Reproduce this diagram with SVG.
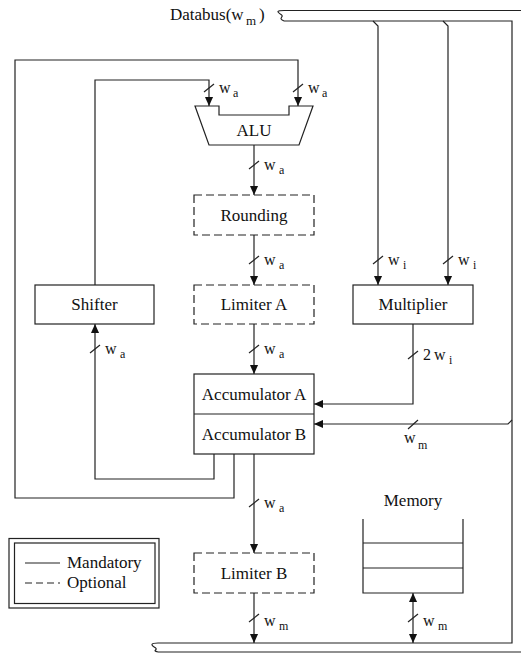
<svg xmlns="http://www.w3.org/2000/svg" width="521" height="655" viewBox="0 0 521 655">
<style>
text{font-family:"Liberation Serif","Times New Roman",serif;fill:#111}
.t{font-size:17px;text-anchor:middle}
.w{font-size:16px}
.s{font-size:12px}
.ln{fill:none;stroke:#222;stroke-width:1.2}
.box{fill:#fff;stroke:#222;stroke-width:1.2}
.opt{fill:#fff;stroke:#222;stroke-width:1.2;stroke-dasharray:8 4}
.ar{fill:none;stroke:#222;stroke-width:1.2;marker-end:url(#ah)}
</style>
<defs>
<marker id="ah" viewBox="0 0 10 10" refX="10" refY="5" markerWidth="9" markerHeight="9" markerUnits="userSpaceOnUse" orient="auto-start-reverse">
<path d="M0,0.5 L10,5 L0,9.5 z" fill="#111"/>
</marker>
</defs>
<rect width="521" height="655" fill="#fff"/>

<g id="connectors">
<path class="ln" d="M284,10.5 H521"/>
<path class="ln" d="M284,21 H512 V643 H158"/>
<path class="ln" d="M158,652 H521"/>
<path class="ln" d="M284,10.5 C276,10.5 277,12 281,14.5 C285,17 277,18 284,21"/>
<path class="ln" d="M158,643 C150,643 151,645 155,647.5 C159,650 151,650.5 158,652"/>
<path class="ar" d="M373,21 L378,26 V285"/>
<path class="ar" d="M443,21 L448,26 V285"/>
<path class="ar" d="M512,420 L508,424 H314"/>
<path class="ar" d="M234,454 V498 H15 V60 H298 V106"/>
<path class="ar" d="M214,454 V479 H95 V324"/>
<path class="ar" d="M95,285 V80 H209 V106"/>
<path class="ar" d="M254,145 V195"/>
<path class="ar" d="M254,235 V285"/>
<path class="ar" d="M254,324 V374"/>
<path class="ar" d="M254,454 V553"/>
<path class="ar" d="M254,593 V643"/>
<path class="ar" d="M413,324 V404 H314"/>
<path class="ar" d="M413,618 V593"/>
<path class="ar" d="M413,618 V643"/>
<g class="ln">
<path d="M204,92 L214,84"/>
<path d="M293,92 L303,84"/>
<path d="M249,169 L259,161"/>
<path d="M249,264 L259,256"/>
<path d="M373,264 L383,256"/>
<path d="M443,264 L453,256"/>
<path d="M249,353 L259,345"/>
<path d="M90,353 L100,345"/>
<path d="M408,359 L418,351"/>
<path d="M408,429 L418,420"/>
<path d="M249,507 L259,499"/>
<path d="M249,622 L259,614"/>
<path d="M408,622 L418,614"/>
</g>
<text class="w" x="219" y="93">w</text><text class="s" x="233" y="97">a</text>
<text class="w" x="308" y="93">w</text><text class="s" x="322" y="97">a</text>
<text class="w" x="264" y="170">w</text><text class="s" x="279" y="174">a</text>
<text class="w" x="264" y="265">w</text><text class="s" x="279" y="269">a</text>
<text class="w" x="388" y="265">w</text><text class="s" x="403" y="269">i</text>
<text class="w" x="458" y="265">w</text><text class="s" x="473" y="269">i</text>
<text class="w" x="264" y="354">w</text><text class="s" x="279" y="358">a</text>
<text class="w" x="105" y="354">w</text><text class="s" x="120" y="358">a</text>
<text class="w" x="423" y="360">2</text><text class="w" x="434" y="360">w</text><text class="s" x="449" y="364">i</text>
<text class="w" x="404" y="443">w</text><text class="s" x="418" y="449">m</text>
<text class="w" x="264" y="508">w</text><text class="s" x="279" y="512">a</text>
<text class="w" x="264" y="626">w</text><text class="s" x="279" y="630">m</text>
<text class="w" x="423" y="626">w</text><text class="s" x="438" y="630">m</text>
</g>

<g id="databus-label">
<text x="170" y="20" style="font-size:17px">Databus(w</text><text class="s" x="246" y="25" style="font-size:13px">m</text><text x="259" y="20" style="font-size:17px">)</text>
</g>

<g id="alu">
<polygon class="box" points="195,106 219,106 219,115 289,115 289,106 313,106 299,145 209,145"/>
<text class="t" x="254" y="136">ALU</text>
</g>
<g id="rounding">
<rect class="opt" x="194" y="195" width="120" height="40"/>
<text class="t" x="254" y="221">Rounding</text>
</g>
<g id="limiterA">
<rect class="opt" x="194" y="285" width="120" height="39"/>
<text class="t" x="254" y="310">Limiter A</text>
</g>
<g id="shifter">
<rect class="box" x="35" y="285" width="119" height="39"/>
<text class="t" x="94.5" y="310">Shifter</text>
</g>
<g id="multiplier">
<rect class="box" x="353" y="285" width="120" height="39"/>
<text class="t" x="413" y="310">Multiplier</text>
</g>
<g id="accumulators">
<rect class="box" x="194" y="374" width="120" height="80"/>
<line class="ln" x1="194" y1="414" x2="314" y2="414"/>
<text class="t" x="254" y="400">Accumulator A</text>
<text class="t" x="254" y="440">Accumulator B</text>
</g>
<g id="limiterB">
<rect class="opt" x="194" y="553" width="120" height="40"/>
<text class="t" x="254" y="579">Limiter B</text>
</g>
<g id="memory">
<text class="t" x="413" y="506">Memory</text>
<path class="ln" d="M363,519 V593 H463 V519"/>
<line class="ln" x1="363" y1="543" x2="463" y2="543"/>
<line class="ln" x1="363" y1="568" x2="463" y2="568"/>
</g>
<g id="legend">
<rect class="box" x="9" y="538.5" width="150" height="69.5"/>
<rect class="box" x="14.5" y="543" width="140.5" height="60.5"/>
<line class="ln" x1="25" y1="563" x2="60" y2="563"/>
<line class="ln" x1="25" y1="583" x2="60" y2="583" stroke-dasharray="7 4"/>
<text x="67" y="568" style="font-size:17px">Mandatory</text>
<text x="67" y="588" style="font-size:17px">Optional</text>
</g>
</svg>
